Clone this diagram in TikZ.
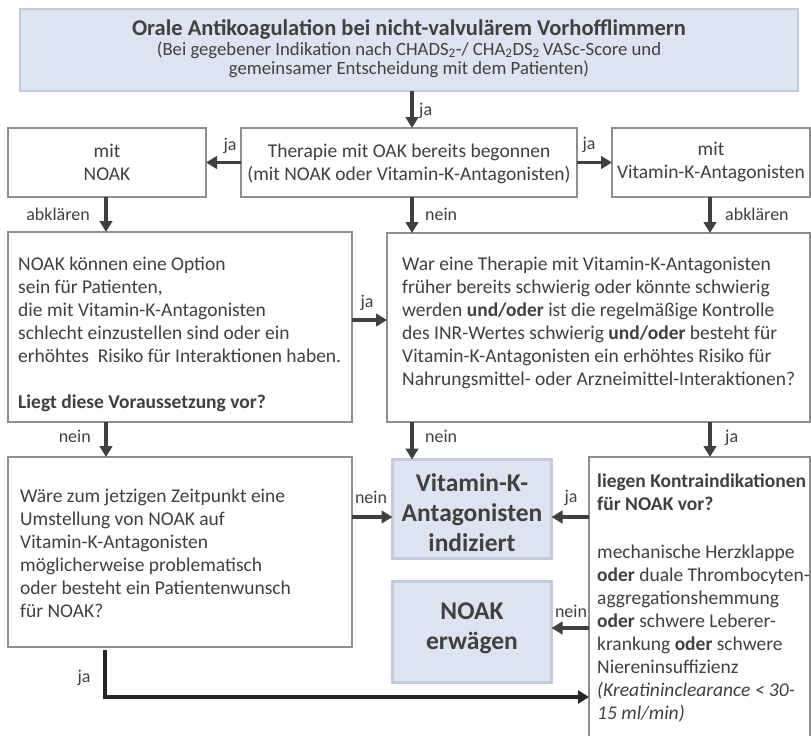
\documentclass[tikz,border=0pt]{standalone}
\usepackage{fontspec}
\setmainfont{Carlito}
\usetikzlibrary{arrows.meta}
\definecolor{txtgray}{HTML}{404040}
\definecolor{boxgray}{HTML}{8E8E8E}
\definecolor{bluefill}{HTML}{DDE3F0}
\definecolor{blueline}{HTML}{C3CADB}
\definecolor{arrgray}{HTML}{404040}
\definecolor{arrdark}{HTML}{262626}
\begin{document}
\begin{tikzpicture}[x=1pt,y=-1pt,
  every node/.style={text=txtgray, font=\fontsize{19.5}{23}\selectfont},
  plainbox/.style={draw=boxgray, line width=1.3pt, fill=white, inner sep=0pt, outer sep=0pt},
  bluebox/.style={draw=blueline, line width=3pt, fill=bluefill, inner sep=0pt, outer sep=0pt},
  topbox/.style={draw=blueline, line width=1.8pt, fill=bluefill, inner sep=0pt, outer sep=0pt},
  txt/.style={inner sep=0pt, align=left},
  ctxt/.style={inner sep=0pt, align=center},
  lbl/.style={inner sep=0pt, font=\fontsize{18}{22}\selectfont},
  arr/.style={draw=arrgray, line width=3.2pt, -{Triangle[length=11pt,width=12.5pt]}},
  arrbig/.style={draw=arrdark, line width=3.6pt, -{Triangle[length=11pt,width=13pt]}}
]
\useasboundingbox (0,0) rectangle (811,736);

% helper coordinates
\coordinate (cmid) at (412,0);
\coordinate (cleft) at (106,0);
\coordinate (cright) at (710,0);
\coordinate (y320) at (0,320);
\coordinate (y517) at (0,517);
\coordinate (y628) at (0,628);
\coordinate (y697) at (0,697);

% top box
\node[topbox, minimum width=778, minimum height=82] (top) at (409,50) {};
\node[lbl, font=\fontsize{22.5}{26}\selectfont\bfseries] (topT) at (409,29) {Orale Antikoagulation bei nicht-valvulärem Vorhofflimmern};
\node[lbl, font=\fontsize{18.7}{21}\selectfont] (topS1) at (409,50) {(Bei gegebener Indikation nach CHADS\textsubscript{2}-/ CHA\textsubscript{2}DS\textsubscript{2}\,VASc-Score und};
\node[lbl, font=\fontsize{18.7}{21}\selectfont] (topS2) at (409,69.5) {gemeinsamer Entscheidung mit dem Patienten)};

% row 2
\node[plainbox, minimum width=198, minimum height=69] (noak) at (107,162.5) {};
\node[ctxt] (noakT) at (107,162) {mit\\NOAK};
\node[plainbox, minimum width=336, minimum height=69] (ther) at (409,162.5) {};
\node[ctxt] (therT) at (409,164) {Therapie mit OAK bereits begonnen\\(mit NOAK oder Vitamin-K-Antagonisten)};
\node[plainbox, minimum width=198, minimum height=69] (vka) at (711,162.5) {};
\node[ctxt] (vkaT) at (711,162) {mit\\Vitamin-K-Antagonisten};

% row 3
\node[plainbox, minimum width=344, minimum height=190] (opt) at (180,327) {};
\node[txt, anchor=west] (optT) at (18,334) {NOAK können eine Option\\sein für Patienten,\\die mit Vitamin-K-Antagonisten\\schlecht einzustellen sind oder ein\\erhöhtes\ \ Risiko für Interaktionen haben.\\[23pt]\textbf{Liegt diese Voraussetzung vor?}};
\node[plainbox, minimum width=423, minimum height=189] (war) at (598.5,327.5) {};
\node[txt, anchor=west] (warT) at (402,322.5) {War eine Therapie mit Vitamin-K-Antagonisten\\früher bereits schwierig oder könnte schwierig\\werden \textbf{und/oder} ist die regelmäßige Kontrolle\\des INR-Wertes schwierig \textbf{und/oder} besteht für\\Vitamin-K-Antagonisten ein erhöhtes Risiko für\\Nahrungsmittel- oder Arzneimittel-Interaktionen?};

% row 4
\node[plainbox, minimum width=344, minimum height=190] (waere) at (180,552) {};
\node[txt, anchor=west] (waereT) at (20,553) {Wäre zum jetzigen Zeitpunkt eine\\Umstellung von NOAK auf\\Vitamin-K-Antagonisten\\möglicherweise problematisch\\oder besteht ein Patientenwunsch\\für NOAK?};
\node[bluebox, minimum width=159, minimum height=99] (vkai) at (472,509) {};
\node[ctxt, font=\fontsize{25.5}{30}\selectfont\bfseries] (vkaiT) at (472,513) {Vitamin-K-\\Antagonisten\\indiziert};
\node[bluebox, minimum width=159, minimum height=101] (noake) at (472,632) {};
\node[ctxt, font=\fontsize{25.5}{30}\selectfont\bfseries] (noakeT) at (472,628) {NOAK\\erwägen};
\node[plainbox, minimum width=221, minimum height=284] (kontra) at (699.5,599) {};
\node[txt, anchor=west] (kontraT) at (597,598) {\textbf{liegen Kontraindikationen}\\\textbf{für NOAK vor?}\\[25pt]mechanische Herzklappe\\\textbf{oder} duale Thrombocyten-\\aggregationshemmung\\\textbf{oder} schwere Leberer-\\krankung \textbf{oder} schwere\\Niereninsuffizienz\\\textit{(Kreatininclearance < 30-}\\\textit{15 ml/min)}};

% connectors
\draw[arr] (top.south -| cmid) -- (ther.north -| cmid);
\draw[arr] (ther.west) -- (noak.east);
\draw[arr] (ther.east) -- (vka.west);
\draw[arr] (noak.south -| cleft) -- (opt.north -| cleft);
\draw[arr] (ther.south -| cmid) -- (war.north -| cmid);
\draw[arr] (vka.south -| cright) -- (war.north -| cright);
\draw[arr] (opt.east |- y320) -- (war.west |- y320);
\draw[arr] (opt.south -| cleft) -- (waere.north -| cleft);
\draw[arr] (war.south -| cmid) -- (vkai.north -| cmid);
\draw[arr] (war.south -| cright) -- (kontra.north -| cright);
\draw[arr] (waere.east |- y517) -- (vkai.west |- y517);
\draw[arr] (kontra.west |- y517) -- (vkai.east |- y517);
\draw[arr] (kontra.west |- y628) -- (noake.east |- y628);
\draw[arrbig] ([yshift=-3pt]waere.south -| 105,0) -- (105,697) -- (kontra.west |- y697);

% labels
\node[lbl, anchor=west] (l1) at (419,111) {ja};
\node[lbl] (l2) at (230,146) {ja};
\node[lbl] (l3) at (589,145) {ja};
\node[lbl, anchor=east] (l4) at (90,214) {abklären};
\node[lbl, anchor=west] (l5) at (425,214) {nein};
\node[lbl, anchor=west] (l6) at (725,214) {abklären};
\node[lbl] (l7) at (367,303) {ja};
\node[lbl, anchor=east] (l8) at (91,436) {nein};
\node[lbl, anchor=west] (l9) at (425,436) {nein};
\node[lbl, anchor=west] (l10) at (725,438) {ja};
\node[lbl] (l11) at (371,497) {nein};
\node[lbl] (l12) at (571,498) {ja};
\node[lbl] (l13) at (571,611) {nein};
\node[lbl] (l14) at (84,678) {ja};
\end{tikzpicture}
\end{document}
